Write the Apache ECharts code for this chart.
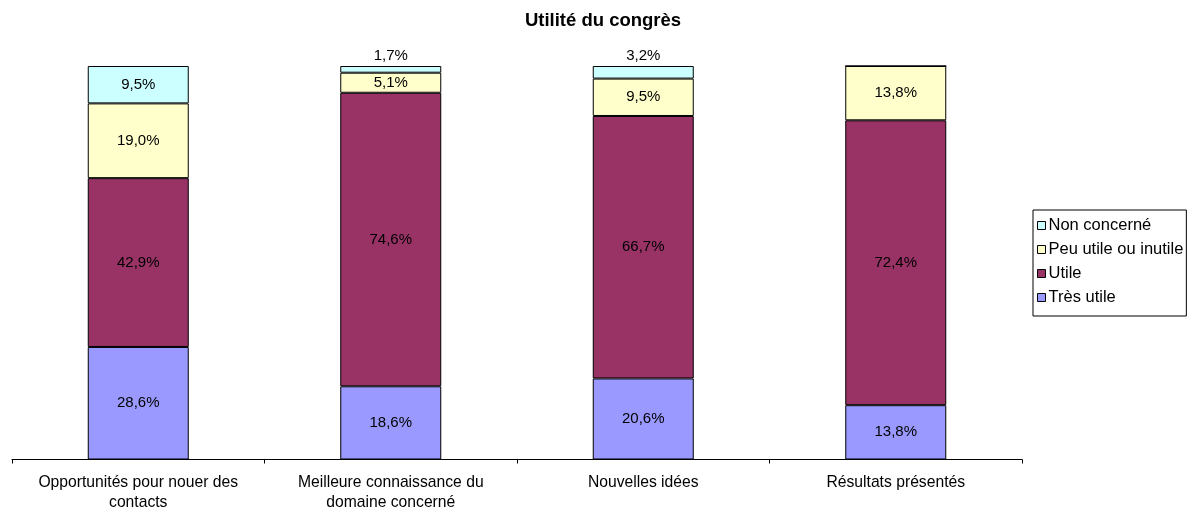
<!DOCTYPE html>
<html><head><meta charset="utf-8">
<script src="https://cdn.jsdelivr.net/npm/echarts@6/dist/echarts.min.js"></script>
<style>html,body{margin:0;padding:0;background:#fff}#c{width:1192px;height:510px}</style>
</head><body><div id="c"></div>
<script>
const categories = ['Opportunités pour nouer des\ncontacts', 'Meilleure connaissance du\ndomaine concerné', 'Nouvelles idées', 'Résultats présentés'];
const tresUtile = [28.6, 18.6, 20.6, 13.8];
const utile = [42.9, 74.6, 66.7, 72.4];
const peuUtile = [19.0, 5.1, 9.5, 13.8];
const nonConcerne = [9.5, 1.7, 3.2, 0];
const seriesNames = ['Très utile', 'Utile', 'Peu utile ou inutile', 'Non concerné'];
const colors = ['#9999FF', '#993366', '#FFFFCC', '#CCFFFF'];

const fmt = v => v.toFixed(1).replace('.', ',') + '%';
const font = 'Liberation Sans, Arial, sans-serif';

function mk(name, vals, color, small) {
  return {
    name: name, type: 'bar', stack: 'total', barWidth: 101,
    itemStyle: { color: color, borderColor: '#000', borderWidth: 1 },
    data: vals.map(v => {
      const d = { value: v };
      if (v === 0) d.label = { show: false };
      else if (small && v < 4) d.label = { position: 'top', distance: 3 };
      return d;
    }),
    label: { show: true, position: 'inside', color: '#000', fontSize: 15, fontFamily: font,
      formatter: p => fmt(p.value) },
    emphasis: { disabled: true }
  };
}

const chart = echarts.init(document.getElementById('c'));
chart.setOption({
  animation: false,
  title: { text: 'Utilité du congrès', left: 598, textAlign: 'center', top: 6,
    textStyle: { fontSize: 18.5, fontWeight: 'bold', fontFamily: font, color: '#000' } },
  legend: {
    orient: 'vertical', left: 1033, top: 210, width: 154,
    data: seriesNames.slice().reverse(),
    itemWidth: 8, itemHeight: 8, itemGap: 7, padding: [7, 3, 10, 4],
    borderColor: '#000', borderWidth: 1,
    textStyle: { fontSize: 16.5, lineHeight: 16, fontFamily: font, color: '#000', padding: [0, 0, 0, -2] },
    icon: 'rect',
    itemStyle: { borderColor: '#000', borderWidth: 1 }
  },
  grid: { left: 12, right: 170, top: 66, bottom: 50.5, containLabel: false, outerBoundsMode: 'none' },
  xAxis: {
    type: 'category', data: categories,
    axisLine: { lineStyle: { color: '#000', width: 1 } },
    axisTick: { show: true, length: 4, lineStyle: { color: '#000' } },
    axisLabel: { color: '#000', fontSize: 15.7, fontFamily: font, margin: 13, lineHeight: 20, interval: 0 }
  },
  yAxis: { type: 'value', min: 0, max: 100, show: false, splitLine: { show: false } },
  series: [
    mk(seriesNames[0], tresUtile, colors[0]),
    mk(seriesNames[1], utile, colors[1]),
    mk(seriesNames[2], peuUtile, colors[2]),
    mk(seriesNames[3], nonConcerne, colors[3], true)
  ]
});
</script></body></html>
